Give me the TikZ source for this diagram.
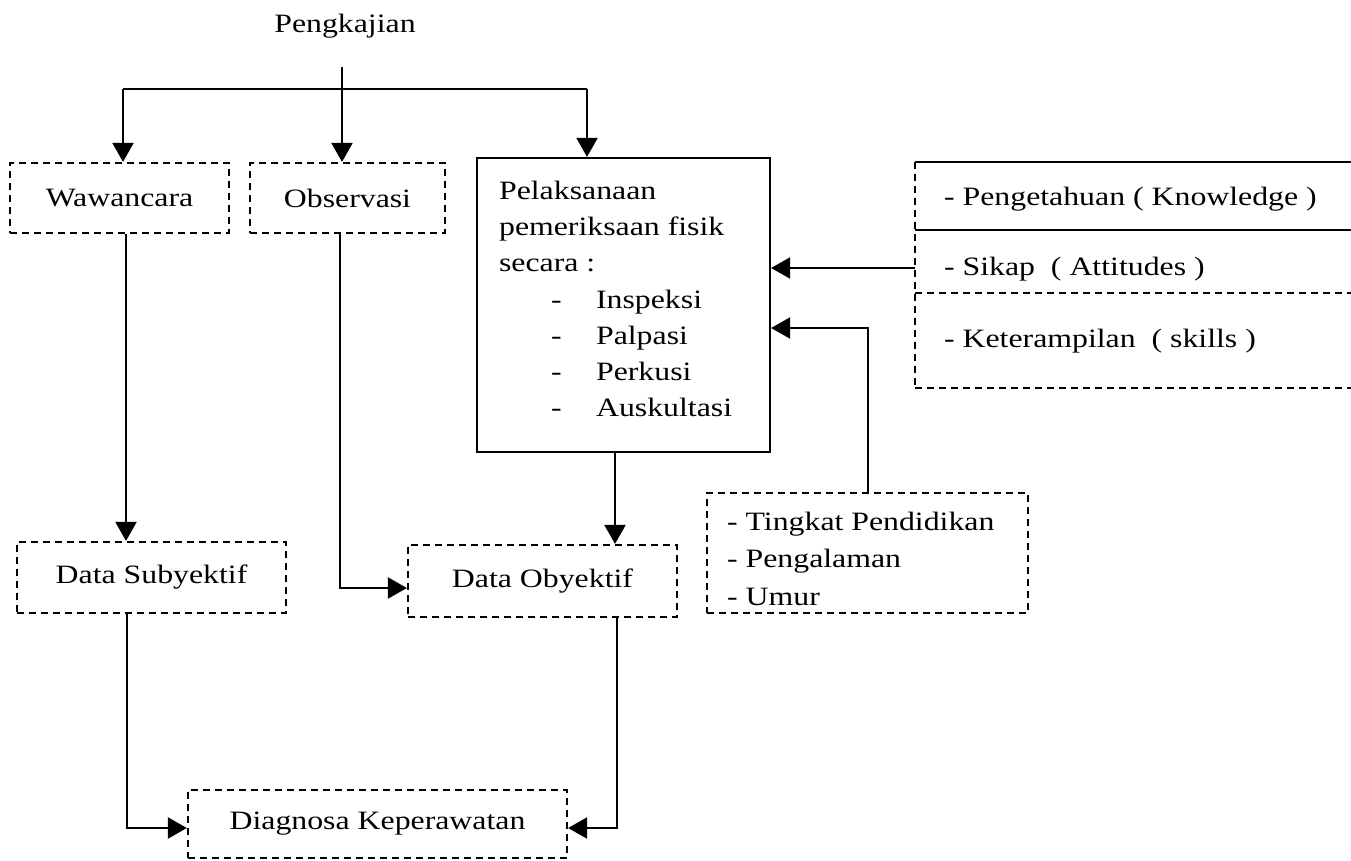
\documentclass[tikz,border=0pt]{standalone}
\usepackage{fontspec}
\setmainfont{Liberation Serif}[FakeStretch=1.2]
\usetikzlibrary{arrows.meta}
\begin{document}
\begin{tikzpicture}[x=1pt,y=-1pt,
  line width=2.2pt,
  every node/.style={font=\fontsize{26.5}{36.2}\selectfont, inner sep=0pt},
  dbox/.style={draw, dash pattern=on 7pt off 5pt, line width=2.2pt},
  sbox/.style={draw, line width=2.2pt},
  arr/.style={-{Triangle[length=19pt,width=21pt]}},
  txt/.style={align=left, anchor=west}]
\useasboundingbox (0,0) rectangle (1351,860);
% title
\node (pk) at (345,26) {Pengkajian};
% boxes
\node[dbox, minimum width=219pt, minimum height=70pt] (waw) at (119.5,198) {Wawancara};
\node[dbox, minimum width=195pt, minimum height=70pt] (obs) at (347.5,198) {Observasi};
\node[sbox, minimum width=293pt, minimum height=294pt] (pel) at (623.5,305) {};
\node[anchor=north west, align=left] (pelt) at (498,180) {Pelaksanaan\\pemeriksaan fisik\\secara :\\
\makebox[97pt][l]{\hspace{52pt}-}Inspeksi\\
\makebox[97pt][l]{\hspace{52pt}-}Palpasi\\
\makebox[97pt][l]{\hspace{52pt}-}Perkusi\\
\makebox[97pt][l]{\hspace{52pt}-}Auskultasi};
\node[dbox, minimum width=269pt, minimum height=71pt] (dsub) at (151.5,577.5) {Data Subyektif};
\node[dbox, minimum width=269pt, minimum height=72pt] (dob) at (542.5,581) {Data Obyektif};
\node[dbox, minimum width=379pt, minimum height=68pt] (diag) at (377.5,824) {Diagnosa Keperawatan};
\node[dbox, minimum width=321pt, minimum height=120pt] (ting) at (867.5,553) {};
\node[anchor=north west, align=left, font=\fontsize{26.5}{37.5}\selectfont] (tingt) at (726,511) {- Tingkat Pendidikan\\- Pengalaman\\- Umur};
% right group
\coordinate (k0) at (915,162);
\coordinate (k1) at (915,230);
\coordinate (k2) at (915,293);
\coordinate (k3) at (915,388);
\draw (k0) -- (1351,162);
\draw (k1) -- (1351,230);
\draw[dash pattern=on 7pt off 5pt] (k0) -- (k3);
\draw[dash pattern=on 7pt off 5pt] (k2) -- (1351,293);
\draw[dash pattern=on 7pt off 5pt] (k3) -- (1351,388);
\node[txt] (kn) at (943,199) {- Pengetahuan ( Knowledge )};
\node[txt] (sk) at (943,269) {- Sikap\ \ ( Attitudes )};
\node[txt] (ke) at (943,341) {- Keterampilan\ \ ( skills )};
% connectors
\coordinate (ptop) at (342,67);
\coordinate (hl) at (123,89);
\coordinate (hr) at (587,89);
\draw[arr] (ptop) -- (ptop |- obs.north);
\draw (hl) -- (hr);
\draw[arr] (hl) -- (hl |- waw.north);
\draw[arr] (hr) -- (hr |- pel.north);
\coordinate (w1) at (126,0);
\draw[arr] (w1 |- waw.south) -- (w1 |- dsub.north);
\coordinate (o1) at (340,588);
\draw[arr] (o1 |- obs.south) -- (o1) -- (o1 -| dob.west);
\coordinate (p1) at (615,0);
\draw[arr] (p1 |- pel.south) -- (p1 |- dob.north);
\coordinate (s1) at (127,828);
\draw[arr] (s1 |- dsub.south) -- (s1) -- (s1 -| diag.west);
\coordinate (d1) at (617,828);
\draw[arr] (d1 |- dob.south) -- (d1) -- (d1 -| diag.east);
\coordinate (a1) at (915,268);
\draw[arr] (a1) -- (a1 -| pel.east);
\coordinate (t1) at (868,328);
\draw[arr] (t1 |- ting.north) -- (t1) -- (t1 -| pel.east);
\end{tikzpicture}
\end{document}
